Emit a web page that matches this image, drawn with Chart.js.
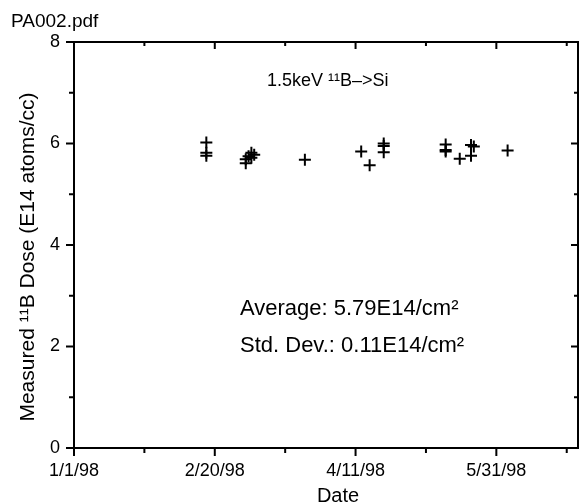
<!DOCTYPE html>
<html>
<head>
<meta charset="utf-8">
<script src="https://cdn.jsdelivr.net/npm/chart.js@4"></script>
<style>
  html, body { margin: 0; padding: 0; background: #fff; }
  canvas { display: block; }
</style>
</head>
<body>
<canvas id="dose-chart" width="580" height="504"></canvas>
<script>
// measurement dates and dose values (E14 atoms/cc)
const dates = ['2/17/98', '2/17/98', '2/17/98',
  '3/3/98', '3/3/98', '3/4/98', '3/5/98', '3/6/98', '3/5/98',
  '3/24/98', '4/13/98', '4/16/98', '4/21/98', '4/21/98', '4/21/98',
  '5/13/98', '5/13/98', '5/13/98', '5/18/98', '5/22/98', '5/23/98', '5/22/98',
  '6/4/98'];
const doses = [6.02, 5.82, 5.76,
  5.61, 5.69, 5.75, 5.82, 5.78, 5.72,
  5.68, 5.84, 5.57, 6.00, 5.95, 5.83,
  5.98, 5.87, 5.84, 5.70, 5.97, 5.94, 5.76,
  5.86];
const xTickDays = [0, 50, 100, 150];
const xTickLabels = ['1/1/98', '2/20/98', '4/11/98', '5/31/98'];
const yTicks = [0, 2, 4, 6, 8];

const chartTitle = '1.5keV \u00b9\u00b9B\u2013>Si';
const avgText = 'Average: 5.79E14/cm\u00b2';
const stdText = 'Std. Dev.: 0.11E14/cm\u00b2';

function dayOf(s) {
    const [m, d, y] = s.split('/').map(Number);
    return (Date.UTC(1900 + y, m - 1, d) - Date.UTC(1998, 0, 1)) / 86400000;
}

const points = dates.map((d, i) => ({x: dayOf(d), y: doses[i]}));
const FONT = '"Liberation Sans", Arial, sans-serif';

const framePlugin = {
    id: 'frame',
    afterDraw(chart) {
        const {ctx, chartArea: a, scales: {x, y}} = chart;
        ctx.save();
        ctx.strokeStyle = '#000';
        ctx.lineWidth = 2;
        ctx.strokeRect(a.left, a.top, a.right - a.left, a.bottom - a.top);
        ctx.beginPath();
        for (let v = 0; v <= x.max; v += 25) {
            const px = x.getPixelForValue(v);
            const major = v % 50 === 0;
            ctx.moveTo(px, a.bottom); ctx.lineTo(px, a.bottom + (major ? 8 : 5));
            ctx.moveTo(px, a.top); ctx.lineTo(px, a.top + (major ? 7 : 4));
        }
        for (let v = 0; v <= 8; v += 1) {
            const py = y.getPixelForValue(v);
            const major = v % 2 === 0;
            ctx.moveTo(a.left, py); ctx.lineTo(a.left - (major ? 8 : 5), py);
            ctx.moveTo(a.right, py); ctx.lineTo(a.right - (major ? 7 : 4), py);
        }
        ctx.stroke();

        ctx.fillStyle = '#000';
        ctx.textBaseline = 'alphabetic';
        ctx.textAlign = 'left';
        ctx.font = '19px ' + FONT;
        ctx.fillText('PA002.pdf', 11, 27);
        ctx.font = '18px ' + FONT;
        ctx.fillText(chartTitle, 267, 86);
        ctx.font = '22px ' + FONT;
        ctx.fillText(avgText, 240, 315);
        ctx.fillText(stdText, 240, 352);
        ctx.font = '20px ' + FONT;
        ctx.textAlign = 'center';
        ctx.fillText('Date', 338, 502);
        ctx.font = '21px ' + FONT;
        ctx.translate(28, 257);
        ctx.rotate(-Math.PI / 2);
        ctx.textBaseline = 'middle';
        ctx.fillText('Measured \u00b9\u00b9B Dose (E14 atoms/cc)', 0, 0);
        ctx.restore();
    }
};

Chart.defaults.font.family = FONT;
Chart.defaults.color = '#000';

new Chart(document.getElementById('dose-chart'), {
    type: 'scatter',
    data: {
        datasets: [{
            data: points,
            pointStyle: 'cross',
            pointRadius: 6,
            pointBorderWidth: 2,
            borderColor: '#000',
            backgroundColor: '#000'
        }]
    },
    options: {
        responsive: false,
        animation: false,
        layout: {autoPadding: false, padding: {top: 42, right: 2, left: 0, bottom: 0}},
        plugins: {
            legend: {display: false},
            title: {display: false},
            tooltip: {enabled: false}
        },
        scales: {
            x: {
                type: 'linear',
                min: 0,
                max: 179,
                afterFit(s) { s.height = 56; s.paddingLeft = 0; s.paddingRight = 0; },
                afterBuildTicks(s) { s.ticks = xTickDays.map(v => ({value: v})); },
                grid: {display: false, drawTicks: false},
                border: {display: false},
                ticks: {
                    autoSkip: false,
                    maxRotation: 0,
                    padding: 12,
                    font: {size: 18},
                    callback: v => xTickLabels[xTickDays.indexOf(v)]
                }
            },
            y: {
                min: 0,
                max: 8,
                afterFit(s) { s.width = 74; s.paddingTop = 0; s.paddingBottom = 0; },
                afterBuildTicks(s) { s.ticks = yTicks.map(v => ({value: v})); },
                grid: {display: false, drawTicks: false},
                border: {display: false},
                ticks: {padding: 14, font: {size: 18}}
            }
        }
    },
    plugins: [framePlugin]
});
</script>
</body>
</html>
